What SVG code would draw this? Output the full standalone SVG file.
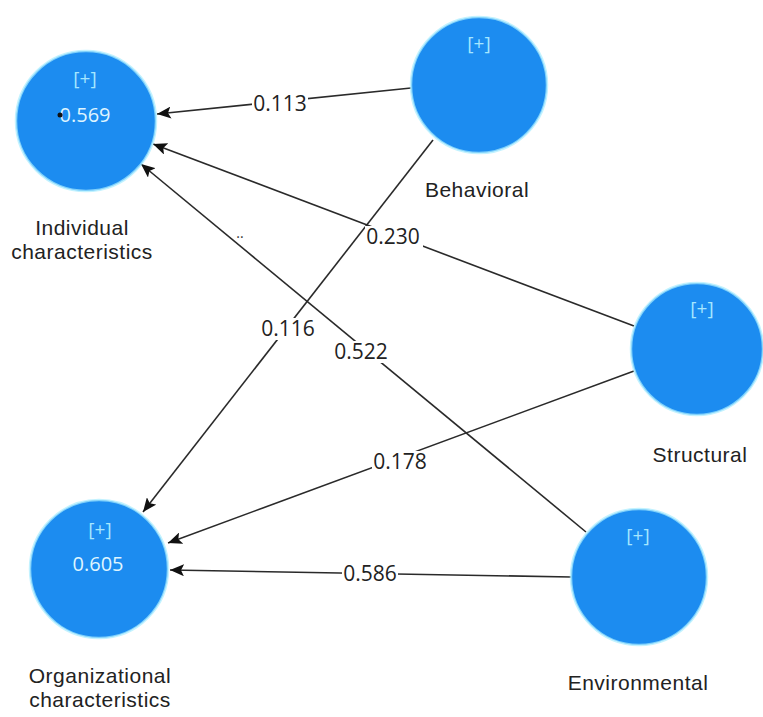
<svg xmlns="http://www.w3.org/2000/svg" width="763" height="717" viewBox="0 0 763 717">
<defs>
<marker id="arr" markerUnits="userSpaceOnUse" markerWidth="14" markerHeight="12" refX="14" refY="6" orient="auto">
<path d="M0,0 L14,6 L0,12 L3,6 z" fill="#111"/>
</marker>
<style>
.node circle{fill:#1c8cf0;stroke:#a8ecff;stroke-width:2.5;stroke-opacity:0.7}
.plus{font-family:"Open Sans","DejaVu Sans",sans-serif;font-size:19px;fill:#a6e6ff;text-anchor:middle}
.val{font-family:"Open Sans","DejaVu Sans",sans-serif;font-size:20px;fill:#dff5ff;text-anchor:middle}
.lbl{font-family:"Liberation Sans",Arial,sans-serif;font-size:21px;fill:#222;text-anchor:middle;letter-spacing:0.5px}
.edge{stroke:#2a2a2a;stroke-width:1.6;fill:none;marker-end:url(#arr)}
.bg{fill:#fff}
.w{font-family:"Open Sans","DejaVu Sans",sans-serif;font-size:21px;fill:#222;text-anchor:middle}
</style>
</defs>
<rect width="763" height="717" fill="#fff"/>
<g id="connectors">
<line class="edge" x1="411" y1="88" x2="157" y2="114"/>
<line class="edge" x1="634" y1="326" x2="153" y2="144"/>
<line class="edge" x1="586" y1="532" x2="141" y2="164"/>
<line class="edge" x1="433" y1="140" x2="143" y2="512"/>
<line class="edge" x1="634" y1="371" x2="168" y2="543"/>
<line class="edge" x1="571" y1="577" x2="170" y2="570"/>
<rect class="bg" x="252" y="93" width="56" height="22"/>
<rect class="bg" x="365" y="226" width="58" height="22"/>
<rect class="bg" x="260" y="318" width="56" height="22"/>
<rect class="bg" x="333" y="341" width="56" height="22"/>
<rect class="bg" x="372" y="451" width="56" height="22"/>
<rect class="bg" x="342" y="563" width="56" height="22"/>
<text class="w" x="280" y="111">0.113</text>
<text class="w" x="393" y="244">0.230</text>
<text class="w" x="288" y="336">0.116</text>
<text class="w" x="361" y="359">0.522</text>
<text class="w" x="400" y="469">0.178</text>
<text class="w" x="370" y="581">0.586</text>
<text x="240" y="238" font-family="Open Sans, DejaVu Sans, sans-serif" font-size="14" fill="#333" text-anchor="middle">..</text>
</g>
<g id="individual" class="node">
<circle cx="86" cy="121" r="70"/>
<text class="plus" x="85" y="85">[+]</text>
<text class="val" x="85" y="122">0.569</text>
<circle cx="60" cy="115" r="2.5" style="fill:#111;stroke:none"/>
<text class="lbl" x="82" y="235">Individual</text>
<text class="lbl" x="82" y="259">characteristics</text>
</g>
<g id="behavioral" class="node">
<circle cx="479" cy="85" r="68"/>
<text class="plus" x="479" y="50">[+]</text>
<text class="lbl" x="477" y="197">Behavioral</text>
</g>
<g id="structural" class="node">
<circle cx="697" cy="349" r="66"/>
<text class="plus" x="702" y="315">[+]</text>
<text class="lbl" x="700" y="462">Structural</text>
</g>
<g id="organizational" class="node">
<circle cx="99" cy="569" r="69"/>
<text class="plus" x="100" y="536">[+]</text>
<text class="val" x="98" y="571">0.605</text>
<text class="lbl" x="100" y="683">Organizational</text>
<text class="lbl" x="100" y="707">characteristics</text>
</g>
<g id="environmental" class="node">
<circle cx="639" cy="577" r="68"/>
<text class="plus" x="638" y="542">[+]</text>
<text class="lbl" x="638" y="690">Environmental</text>
</g>
</svg>
